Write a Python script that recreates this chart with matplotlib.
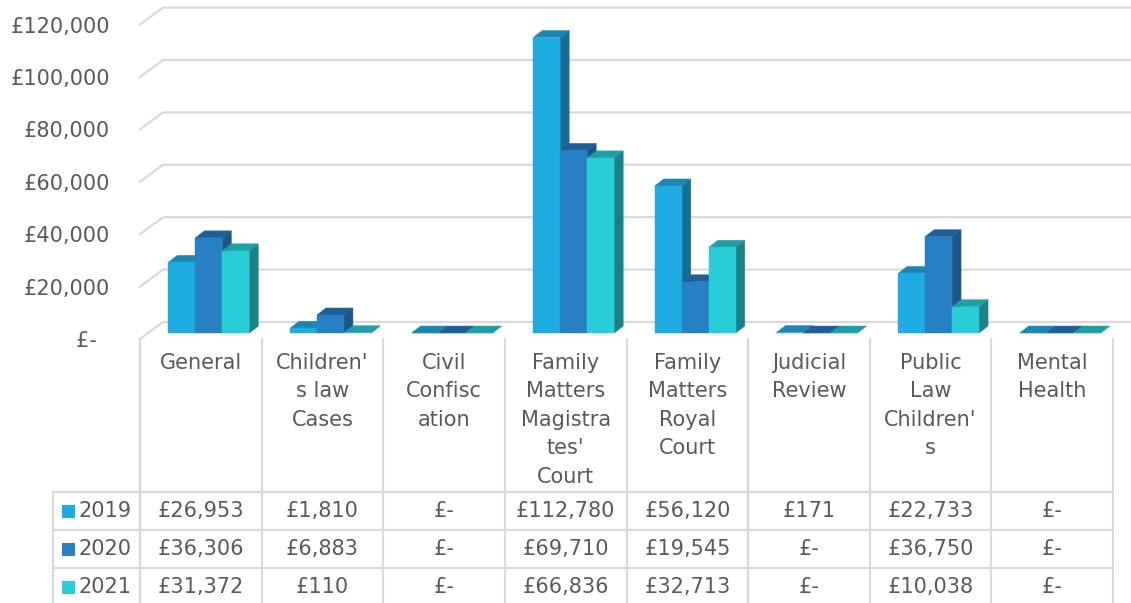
import matplotlib
matplotlib.use("Agg")
import matplotlib.pyplot as plt
from matplotlib.patches import Polygon, Rectangle
from matplotlib.lines import Line2D

# ---------------- data ----------------
categories = ["General", "Children'\ns law\nCases", "Civil\nConfisc\nation",
              "Family\nMatters\nMagistra\ntes'\nCourt", "Family\nMatters\nRoyal\nCourt",
              "Judicial\nReview", "Public\nLaw\nChildren'\ns", "Mental\nHealth"]
years = ["2019", "2020", "2021"]
values_2019 = [26953, 1810, 0, 112780, 56120, 171, 22733, 0]
values_2020 = [36306, 6883, 0, 69710, 19545, 0, 36750, 0]
values_2021 = [31372, 110, 0, 66836, 32713, 0, 10038, 0]
tick_values = [0, 20000, 40000, 60000, 80000, 100000, 120000]
tick_labels = ["£-  ", "£20,000", "£40,000", "£60,000", "£80,000", "£100,000", "£120,000"]

series = [values_2019, values_2020, values_2021]
front_colors = ["#1DABE2", "#2780C4", "#27CED7"]
side_colors = ["#166E97", "#1C5587", "#1A8286"]
top_colors = ["#1B86B2", "#1F5F98", "#1F9FA4"]
grid_color = "#D9D9D9"
text_color = "#595959"

plt.rcParams['font.family'] = ['DejaVu Sans']

W, H = 1131, 603
fig = plt.figure(figsize=(W / 100, H / 100), dpi=100)

# front edge of floor in pixels
X0, X1 = 140, 1113
Y0, YTOP = 339, 24.6
ax = fig.add_axes([X0 / W, 1 - Y0 / H, (X1 - X0) / W, (Y0 - YTOP) / H])
ncat = len(categories)
ax.set_xlim(0, ncat)
ax.set_ylim(0, tick_values[-1])
ax.patch.set_visible(False)
for s in ax.spines.values():
    s.set_visible(False)
ax.set_xticks([])
ax.set_yticks(tick_values)
ax.set_yticklabels(tick_labels)
ax.tick_params(axis='y', length=0, pad=21.5, labelsize=15, labelcolor=text_color)

# pixel -> data unit conversion from the axes' scales
p0 = ax.transData.transform((0, 0))
p1 = ax.transData.transform((1, 1))
sx = p1[0] - p0[0]
sy = p1[1] - p0[1]

def ux(px):
    return px / sx

def uy(px):
    return px / sy

# back wall depth
wall_dx, wall_dy = ux(23), uy(17)
for v in tick_values:
    ax.add_line(Line2D([0, wall_dx, ncat + wall_dx], [v, v + wall_dy, v + wall_dy],
                       color=grid_color, lw=1.6, clip_on=False, zorder=1))

# bars
bw = ux(27)
fdx, fdy = ux(8), uy(6)       # front plane of the bars
ddx, ddy = ux(9), uy(7)       # bar depth
z = 2
for i in range(ncat):
    for j, vals in enumerate(series):
        h = vals[i]
        xl = i + 0.5 - 1.5 * bw + j * bw + fdx
        xr = xl + bw
        yb = fdy
        yt = yb + h
        side = Polygon([(xr, yb), (xr + ddx, yb + ddy), (xr + ddx, yt + ddy), (xr, yt)],
                       closed=True, facecolor=side_colors[j], edgecolor=side_colors[j],
                       lw=0.3, clip_on=False, zorder=z)
        top = Polygon([(xl, yt), (xr, yt), (xr + ddx, yt + ddy), (xl + ddx, yt + ddy)],
                      closed=True, facecolor=top_colors[j], edgecolor=top_colors[j],
                      lw=0.3, clip_on=False, zorder=z)
        front = Rectangle((xl, yb), bw, h, facecolor=front_colors[j],
                          edgecolor=front_colors[j], lw=0.3, clip_on=False, zorder=z)
        ax.add_patch(side)
        ax.add_patch(top)
        ax.add_patch(front)
        z += 1

# ---------------- data table ----------------
tax = fig.add_axes([0, 0, 1, 1], zorder=-1)
tax.set_xlim(0, W)
tax.set_ylim(H, 0)
tax.axis('off')

col_w = (X1 - X0) / ncat
row_top = [492, 530, 568]
row_h = 38
LEFT = 53
for k in range(ncat + 1):
    x = X0 + k * col_w
    tax.add_line(Line2D([x, x], [Y0, H + 5], color=grid_color, lw=1.6))
tax.add_line(Line2D([LEFT, LEFT], [row_top[0], H + 5], color=grid_color, lw=1.6))
for r in row_top + [row_top[-1] + row_h]:
    tax.add_line(Line2D([LEFT, X1], [r, r], color=grid_color, lw=1.6))

for k, cat in enumerate(categories):
    tax.text(X0 + (k + 0.5) * col_w, 353, cat, ha='center', va='top',
             fontsize=15, color=text_color, linespacing=1.53)

def fmt(v):
    return "£{:,}".format(v) if v else "£-"

for r, (yr, vals) in enumerate(zip(years, series)):
    yc = row_top[r] + row_h / 2
    tax.add_patch(Rectangle((62, yc - 6.5), 13, 13, facecolor=front_colors[r], edgecolor='none'))
    tax.text(79, yc, yr, ha='left', va='center', fontsize=15, color=text_color)
    for k, v in enumerate(vals):
        tax.text(X0 + (k + 0.5) * col_w, yc, fmt(v), ha='center', va='center',
                 fontsize=15, color=text_color)

fig.savefig("out.png", dpi=100)
